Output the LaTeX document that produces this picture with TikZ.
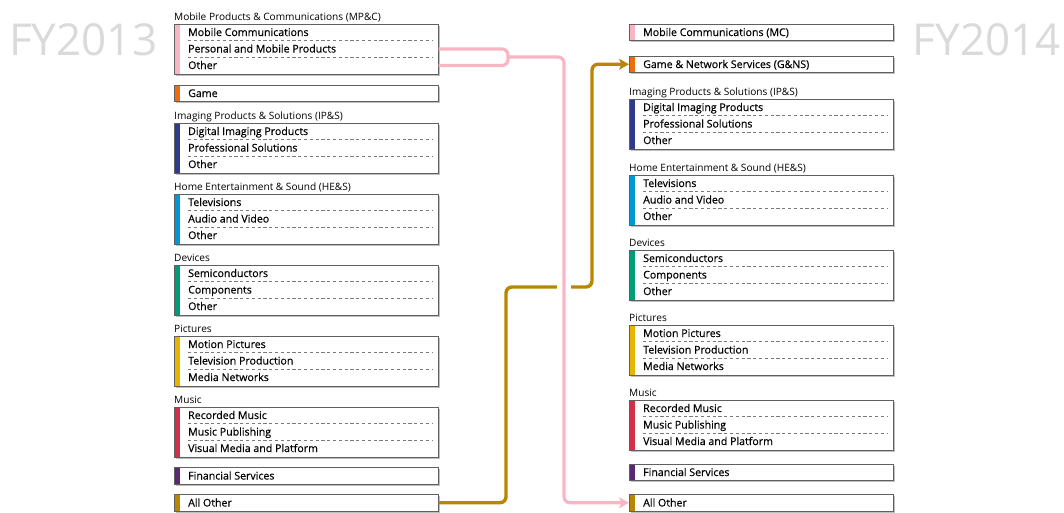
\documentclass[tikz,border=0pt]{standalone}
\usepackage{fontspec}
\setmainfont{Open Sans}
\newfontfamily\rowfont[FakeBold=0.35]{Open Sans}
\usetikzlibrary{arrows.meta,shadows,calc}
\definecolor{cpink}{HTML}{F8B6C4}
\definecolor{corange}{HTML}{EE6E0F}
\definecolor{cnavy}{HTML}{2E3A8C}
\definecolor{cblue}{HTML}{0098D4}
\definecolor{cgreen}{HTML}{009B77}
\definecolor{cyellow}{HTML}{E8B400}
\definecolor{cred}{HTML}{D23048}
\definecolor{cpurple}{HTML}{5A2A70}
\definecolor{cgold}{HTML}{B88600}
\definecolor{cborder}{HTML}{606060}
\definecolor{cdash}{HTML}{7A7A7A}
\definecolor{cfy}{HTML}{DADADA}
\tikzset{
  segbox/.style={draw=cborder, line width=0.8pt, fill=white, minimum width=264.5pt,
    inner sep=0pt, outer sep=0pt, anchor=north west,
    drop shadow={shadow xshift=1.5pt, shadow yshift=-1.5pt, fill=black, opacity=0.25}},
  bar/.style={path picture={\fill[#1] (path picture bounding box.north west) rectangle ([xshift=6pt]path picture bounding box.south west);}},
  ttl/.style={anchor=base west, inner sep=0pt, font=\fontsize{10.1}{12}\selectfont},
  rowtxt/.style={anchor=base west, inner sep=0pt, font=\rowfont\fontsize{10.6}{12}\selectfont},
  dsh/.style={draw=cdash, line width=0.7pt, dash pattern=on 3.2pt off 2.6pt},
  fy/.style={text=cfy, font=\fontsize{44}{48}\selectfont, inner sep=0pt},
  pinkln/.style={draw=cpink, line width=3.2pt, rounded corners=6pt},
  goldln/.style={draw=cgold, line width=3.4pt, rounded corners=6pt},
  tip/.style={-{Stealth[length=10pt,width=11pt,inset=2.5pt]}},
}
\newcommand\tribox[8]{%
  \node[ttl] (#1-t) at (#2,#3-3.5) {#5};
  \node[segbox, bar=#4, minimum height=50pt] (#1) at (#2,#3) {};
  \node[rowtxt] (#1-1) at (#2+14,#3+12) {#6};
  \node[rowtxt] (#1-2) at (#2+14,#3+28.5) {#7};
  \node[rowtxt] (#1-3) at (#2+14,#3+45) {#8};
  \draw[dsh] (#2+14,#3+16.5) -- (#2+258,#3+16.5);
  \draw[dsh] (#2+14,#3+33) -- (#2+258,#3+33);
}
\newcommand\onebox[5]{%
  \node[segbox, bar=#4, minimum height=16.5pt] (#1) at (#2,#3) {};
  \node[rowtxt] (#1-1) at (#2+14,#3+12) {#5};
}
\begin{document}
\begin{tikzpicture}[x=1pt,y=-1pt]
\useasboundingbox (0,0) rectangle (1064,512);
\node[fy, anchor=west] (fy13) at (9,40) {FY2013};
\node[fy, anchor=east] (fy14) at (1061,40) {FY2014};
% left column
\tribox{mpc}{174}{24}{cpink}{Mobile Products \& Communications (MP\&C)}{Mobile Communications}{Personal and Mobile Products}{Other}
\onebox{game}{174}{85}{corange}{Game}
\tribox{ips}{174}{123}{cnavy}{Imaging Products \& Solutions (IP\&S)}{Digital Imaging Products}{Professional Solutions}{Other}
\tribox{hes}{174}{194}{cblue}{Home Entertainment \& Sound (HE\&S)}{Televisions}{Audio and Video}{Other}
\tribox{dev}{174}{265}{cgreen}{Devices}{Semiconductors}{Components}{Other}
\tribox{pic}{174}{336}{cyellow}{Pictures}{Motion Pictures}{Television Production}{Media Networks}
\tribox{mus}{174}{407}{cred}{Music}{Recorded Music}{Music Publishing}{Visual Media and Platform}
\onebox{fin}{174}{467.5}{cpurple}{Financial Services}
\onebox{ao}{174}{494.5}{cgold}{All Other}
% right column
\onebox{mc}{629}{24}{cpink}{Mobile Communications (MC)}
\onebox{gns}{629}{56}{corange}{Game \& Network Services (G\&NS)}
\tribox{ipsB}{629}{99}{cnavy}{Imaging Products \& Solutions (IP\&S)}{Digital Imaging Products}{Professional Solutions}{Other}
\tribox{hesB}{629}{175}{cblue}{Home Entertainment \& Sound (HE\&S)}{Televisions}{Audio and Video}{Other}
\tribox{devB}{629}{250}{cgreen}{Devices}{Semiconductors}{Components}{Other}
\tribox{picB}{629}{325}{cyellow}{Pictures}{Motion Pictures}{Television Production}{Media Networks}
\tribox{musB}{629}{400}{cred}{Music}{Recorded Music}{Music Publishing}{Visual Media and Platform}
\onebox{finB}{629}{464}{cpurple}{Financial Services}
\onebox{aoB}{629}{494.5}{cgold}{All Other}
% connectors
\coordinate (mpc-r2) at (mpc.east |- 0,49);
\coordinate (mpc-r3) at (mpc.east |- 0,65.5);
\coordinate (brk) at (508,57);
\draw[goldln, tip] (ao.east) -| (506,287) -- (592,287) |- (gns.west);
\draw[white, line width=14pt] (564,281) -- (564,293);
\draw[pinkln] (mpc-r2) -| (brk);
\draw[pinkln] (mpc-r3) -| (brk);
\draw[pinkln, tip] (brk) -- (564,57) |- (aoB.west);
\end{tikzpicture}
\end{document}
